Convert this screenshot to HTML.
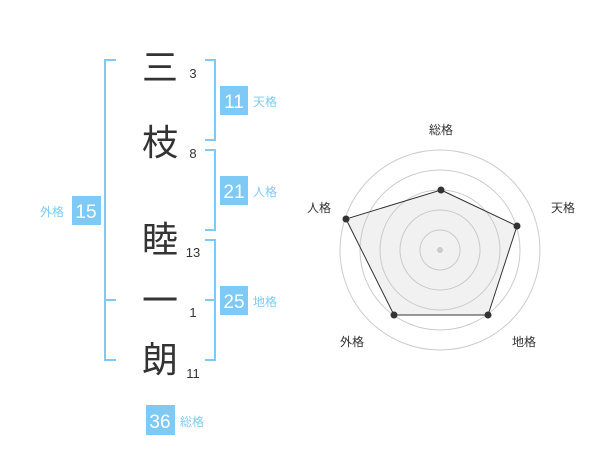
<!DOCTYPE html>
<html><head><meta charset="utf-8"><style>
body{margin:0;background:#fff;width:600px;height:470px;overflow:hidden;font-family:"Liberation Sans","Noto Sans CJK JP",sans-serif}
</style></head><body>
<svg width="600" height="470" xmlns="http://www.w3.org/2000/svg" font-family="Liberation Sans, Noto Sans CJK JP, sans-serif">
<g stroke="#7fcaf5" stroke-width="2" fill="none">
<path d="M116 60H105V360H116M105 300H116"/>
<path d="M205 60H215V140H205"/>
<path d="M205 150H215V230H205"/>
<path d="M205 240H215V360H205M205 300H215"/>
</g>
<g fill="#333" font-size="36" text-anchor="middle">
<text x="160" y="80">三</text>
<text x="160" y="155">枝</text>
<text x="160" y="252">睦</text>
<text x="160" y="313">一</text>
<text x="160" y="372">朗</text>
</g>
<g fill="#333" font-size="13" text-anchor="middle">
<text x="193" y="78">3</text>
<text x="193" y="158">8</text>
<text x="193" y="257">13</text>
<text x="193" y="317">1</text>
<text x="193" y="378">11</text>
</g>
<g fill="#7fcaf5">
<rect x="220" y="86" width="28" height="29"/>
<rect x="220" y="176" width="28" height="29"/>
<rect x="220" y="286" width="28" height="29"/>
<rect x="72" y="196" width="29" height="29"/>
<rect x="146" y="405" width="29" height="30"/>
</g>
<g fill="#fff" font-size="19" text-anchor="middle">
<text x="234" y="108">11</text>
<text x="234" y="198">21</text>
<text x="234" y="308">25</text>
<text x="86" y="218">15</text>
<text x="160" y="428">36</text>
</g>
<g fill="#7fcaf5" font-size="12">
<text x="253" y="106">天格</text>
<text x="253" y="196">人格</text>
<text x="253" y="306">地格</text>
<text x="40" y="216">外格</text>
<text x="180" y="426">総格</text>
</g>
<g fill="none" stroke="#ccc" stroke-width="1">
<circle cx="440" cy="250" r="100"/><circle cx="440" cy="250" r="80"/>
<circle cx="440" cy="250" r="60"/><circle cx="440" cy="250" r="40"/>
<circle cx="440" cy="250" r="20"/>
</g>
<circle cx="440" cy="250" r="3" fill="#ccc"/>
<polygon points="441,190 517,226 488,315 394,315 346,219" fill="rgba(200,200,200,0.25)" stroke="#333" stroke-width="1"/>
<g fill="#333">
<circle cx="441" cy="190" r="3.5"/><circle cx="517" cy="226" r="3.5"/>
<circle cx="488" cy="315" r="3.5"/><circle cx="394" cy="315" r="3.5"/>
<circle cx="346" cy="219" r="3.5"/>
</g>
<g fill="#333" font-size="12" text-anchor="middle">
<text x="441" y="134">総格</text>
<text x="563" y="212">天格</text>
<text x="524" y="346">地格</text>
<text x="352" y="346">外格</text>
<text x="319" y="212">人格</text>
</g>
</svg>
</body></html>
